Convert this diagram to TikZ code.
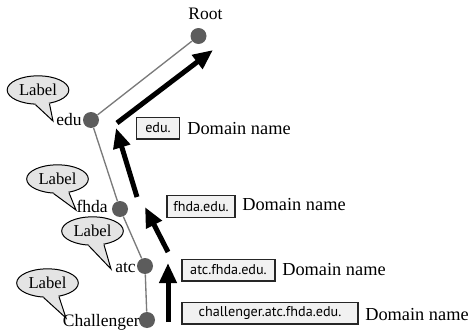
\documentclass[tikz,border=0pt]{standalone}
\usepackage{fontspec}
\setmainfont{Liberation Serif}
\newfontfamily\boxfont{PT Sans}
\usetikzlibrary{arrows.meta,shapes.geometric,calc}
\definecolor{dotgray}{HTML}{5C5C5C}
\definecolor{linegray}{HTML}{7A7A7A}
\definecolor{bubblegray}{HTML}{E4E4E4}
\definecolor{boxgray}{HTML}{F1F1F1}
\tikzstyle{dot}=[circle, fill=dotgray, inner sep=0pt, minimum size=9.6pt]
\tikzstyle{tree-edge}=[linegray, line width=0.8pt]
\tikzstyle{lvl}=[font=\fontsize{10.5}{12}\selectfont, inner sep=0pt]
\tikzstyle{bubble}=[ellipse, draw, fill=bubblegray, line width=0.6pt,
                    minimum width=37pt, minimum height=17pt, inner sep=0pt,
                    font=\fontsize{10}{12}\selectfont]
\tikzstyle{namebox}=[draw=black!85, fill=boxgray, line width=0.8pt,
                     minimum height=13pt, inner sep=0pt,
                     font=\boxfont\fontsize{8.5}{10}\selectfont]
\tikzstyle{dname}=[anchor=base west, inner sep=0pt, font=\fontsize{11}{13}\selectfont]
\tikzstyle{walk-arrow}=[line width=3pt, -{Triangle[length=12pt,width=10pt]}]
% speech bubble tail: bubble, two border angles, tip
\newcommand{\bubbletail}[4]{%
  \fill[bubblegray] ($(#1.center)!0.8!(#1.#2)$) -- (#1.#2) -- (#4)
        -- (#1.#3) -- ($(#1.center)!0.8!(#1.#3)$) -- cycle;
  \draw[line width=0.6pt] (#1.#2) -- (#4) -- (#1.#3);}

\begin{document}
\begin{tikzpicture}[x=0.6pt,y=-0.6pt]
\useasboundingbox (0,0) rectangle (471,331);
% tree
\node[dot] (root) at (198.5,36) {};
\node[dot] (edu) at (91,120) {};
\node[dot] (fhda) at (120,209) {};
\node[dot] (atc) at (145,266) {};
\node[dot] (chal) at (147,320) {};
\draw[tree-edge] (root) to (edu);
\draw[tree-edge] (edu) to (fhda);
\draw[tree-edge] (fhda) to (atc);
\draw[tree-edge] (atc) to (chal);
\node[lvl, anchor=base] (roottxt) at (205.5,19) {Root};
\node[lvl, anchor=base east] (edutxt) at (82,125) {edu};
\node[lvl, anchor=base east] (fhdatxt) at (108,213) {fhda};
\node[lvl, anchor=base east] (atctxt) at (136,272) {atc};
\node[lvl, anchor=base east] (chaltxt) at (140,326) {Challenger};

% labels
\node[bubble] (lab1) at (38,90) {Label};
\node[bubble] (lab2) at (57.5,179) {Label};
\node[bubble] (lab3) at (92.5,231) {Label};
\node[bubble] (lab4) at (47.5,283) {Label};
\coordinate (tip1) at (53,121);
\coordinate (tip2) at (76,210);
\coordinate (tip3) at (111,269);
\coordinate (tip4) at (66,318);
\bubbletail{lab1}{-100}{-50}{tip1}
\bubbletail{lab2}{-105}{-50}{tip2}
\bubbletail{lab3}{-105}{-50}{tip3}
\bubbletail{lab4}{-105}{-50}{tip4}

% walk up the tree
\coordinate (w0) at (168,322);
\coordinate (w1) at (168,263);
\coordinate (w2) at (168,252);
\coordinate (w3) at (145,207);
\coordinate (w4) at (137,197);
\coordinate (w5) at (116,128);
\coordinate (w6) at (117,123);
\coordinate (w7) at (213,50);
\draw[walk-arrow] (w0) to (w1);
\draw[walk-arrow] (w2) to (w3);
\draw[walk-arrow] (w4) to (w5);
\draw[walk-arrow] (w6) to (w7);

% domain names
\node[namebox, minimum width=25.8pt] (box1) at (158,128) {edu.};
\node[namebox, minimum width=40.8pt] (box2) at (201,206.5) {fhda.edu.};
\node[namebox, minimum width=55.8pt] (box3) at (228.5,270) {atc.fhda.edu.};
\node[namebox, minimum width=105.6pt] (box4) at (270,313) {challenger.atc.fhda.edu.};
\node[dname] (dn1) at (187,135) {Domain name};
\node[dname] (dn2) at (242,210) {Domain name};
\node[dname] (dn3) at (282,275) {Domain name};
\node[dname] (dn4) at (365,320) {Domain name};
\end{tikzpicture}
\end{document}
